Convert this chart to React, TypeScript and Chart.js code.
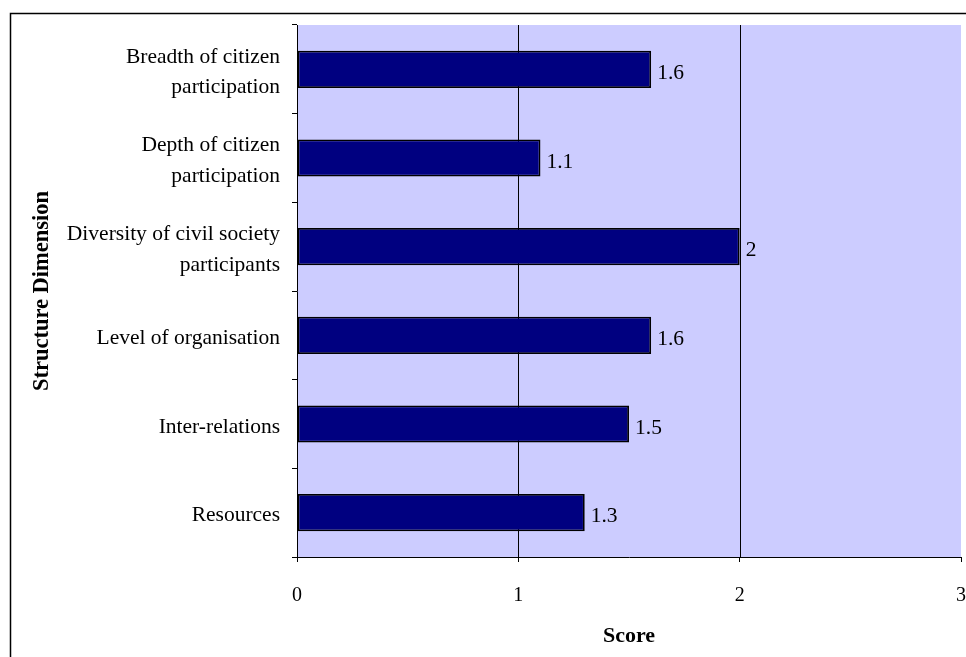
import React, { useEffect, useRef } from "react";
import { Chart, registerables } from "chart.js";

Chart.register(...registerables);

const categories: string[][] = [
  ["Breadth of citizen", "participation"],
  ["Depth of citizen", "participation"],
  ["Diversity of civil society", "participants"],
  ["Level of organisation"],
  ["Inter-relations"],
  ["Resources"],
];
const scores: number[] = [1.6, 1.1, 2, 1.6, 1.5, 1.3];
const scoreLabels: string[] = ["1.6", "1.1", "2", "1.6", "1.5", "1.3"];
const xTickValues: number[] = [0, 1, 2, 3];
const gridValues: number[] = [1, 2];

const SERIF = "'Liberation Serif', 'Times New Roman', serif";

const decorPlugin = {
  id: "decor",
  beforeDraw(chart: any) {
    const { ctx, chartArea } = chart;
    ctx.save();
    ctx.fillStyle = "#ffffff";
    ctx.fillRect(0, 0, chart.width, chart.height);
    // outer frame
    ctx.strokeStyle = "#000000";
    ctx.lineWidth = 1.5;
    ctx.beginPath();
    ctx.moveTo(10.5, chart.height + 2);
    ctx.lineTo(10.5, 13.5);
    ctx.lineTo(chart.width + 2, 13.5);
    ctx.stroke();
    // plot background
    ctx.fillStyle = "#CCCCFF";
    ctx.fillRect(chartArea.left, chartArea.top, chartArea.right - chartArea.left, chartArea.bottom - chartArea.top);
    ctx.restore();
  },
  beforeDatasetsDraw(chart: any) {
    const { ctx, chartArea } = chart;
    const xs = chart.scales.x;
    ctx.save();
    ctx.strokeStyle = "#000000";
    ctx.lineWidth = 1;
    for (const v of gridValues) {
      const px = Math.round(xs.getPixelForValue(v)) + 0.5;
      ctx.beginPath();
      ctx.moveTo(px, chartArea.top);
      ctx.lineTo(px, chartArea.bottom);
      ctx.stroke();
    }
    ctx.restore();
  },
  afterDatasetsDraw(chart: any) {
    const { ctx } = chart;
    const meta = chart.getDatasetMeta(0);
    ctx.save();
    ctx.fillStyle = "#000000";
    ctx.font = `21.5px ${SERIF}`;
    ctx.textAlign = "left";
    ctx.textBaseline = "middle";
    meta.data.forEach((bar: any, i: number) => {
      ctx.fillText(scoreLabels[i], bar.x + 6, bar.y + 4);
    });
    ctx.restore();
  },
};

export default function App() {
  const canvasRef = useRef<HTMLCanvasElement | null>(null);

  useEffect(() => {
    const canvas = canvasRef.current;
    if (!canvas) return;
    const chart = new Chart(canvas, {
      type: "bar",
      data: {
        labels: categories as any,
        datasets: [
          {
            data: scores,
            backgroundColor: "#000080",
            borderColor: "#000000",
            borderWidth: 1.8,
            borderSkipped: false,
            categoryPercentage: 1,
            barPercentage: 0.42,
          },
        ],
      },
      options: {
        indexAxis: "y",
        responsive: false,
        animation: false,
        devicePixelRatio: 1,
        layout: { padding: { left: 0, top: 25, right: 5, bottom: 0 } },
        plugins: {
          legend: { display: false },
          tooltip: { enabled: false },
        },
        scales: {
          x: {
            type: "linear",
            min: 0,
            max: 3,
            afterFit: (scale: any) => {
              scale.height = 100;
              scale.paddingLeft = 0;
              scale.paddingRight = 0;
            },
            afterBuildTicks: (scale: any) => {
              scale.ticks = xTickValues.map((v) => ({ value: v }));
            },
            ticks: {
              color: "#000000",
              font: { family: SERIF, size: 20 },
              padding: 22,
              maxRotation: 0,
              callback: (v: any) => String(v),
            },
            grid: {
              drawOnChartArea: false,
              drawTicks: true,
              tickLength: 5,
              color: "#000000",
            },
            border: { display: true, color: "#000000", width: 1 },
            title: {
              display: true,
              text: "Score",
              color: "#000000",
              font: { family: SERIF, size: 22, weight: "bold" },
              padding: { top: 0, bottom: 7 },
            },
          },
          y: {
            type: "category",
            afterFit: (scale: any) => {
              scale.width = 297;
              scale.paddingTop = 0;
              scale.paddingBottom = 0;
            },
            ticks: {
              color: "#000000",
              font: { family: SERIF, size: 21.5, lineHeight: 1.42 },
              padding: 12,
              labelOffset: 3,
            },
            grid: {
              drawOnChartArea: false,
              drawTicks: true,
              tickLength: 5,
              color: "#000000",
            },
            border: { display: true, color: "#000000", width: 1 },
            title: {
              display: true,
              text: "Structure Dimension",
              color: "#000000",
              font: { family: SERIF, size: 22.5, weight: "bold" },
              padding: { top: 29, bottom: 0 },
            },
          },
        },
      },
      plugins: [decorPlugin],
    });
    return () => chart.destroy();
  }, []);

  return (
    <div style={{ position: "absolute", left: 0, top: 0, width: 966, height: 657 }}>
      <canvas ref={canvasRef} width={966} height={657} style={{ display: "block", width: 966, height: 657 }} />
    </div>
  );
}
